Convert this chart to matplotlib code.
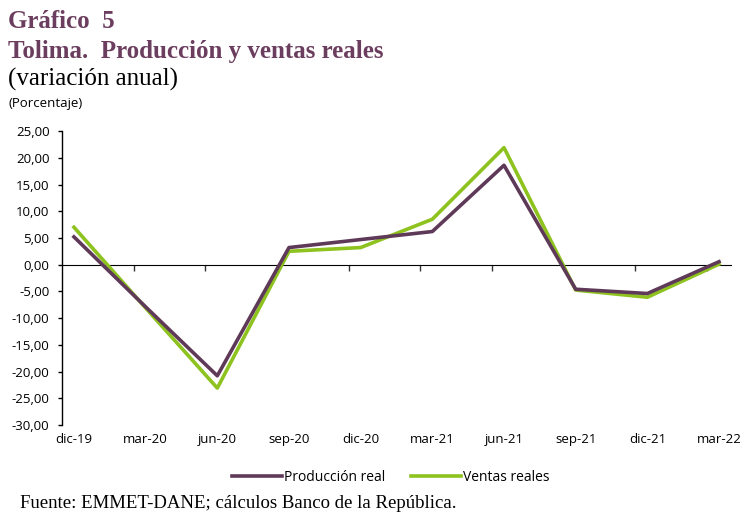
import matplotlib.pyplot as plt
from matplotlib.ticker import FuncFormatter

# Quarterly data (annual % change), placed on a monthly category axis
labels = ["dic-19", "mar-20", "jun-20", "sep-20", "dic-20",
          "mar-21", "jun-21", "sep-21", "dic-21", "mar-22"]
produccion = [5.2, -7.9, -20.8, 3.2, 4.7, 6.2, 18.6, -4.6, -5.4, 0.55]
ventas = [7.0, -8.1, -23.1, 2.5, 3.2, 8.5, 21.9, -4.75, -6.1, 0.1]
months = [3 * i for i in range(len(labels))]

purple = "#5E3A58"
green = "#8DC21F"
title_color = "#6B3D5E"
serif = "Liberation Serif"
sans = "Open Sans"

fig = plt.figure(figsize=(7.4, 5.12), dpi=100)
ax = fig.add_axes([0.0838, 0.170, 0.904, 0.574])

ax.plot(months, produccion, color=purple, lw=2.6, label="Producción real", zorder=3)
ax.plot(months, ventas, color=green, lw=2.6, label="Ventas reales", zorder=2)

ax.set_xlim(-0.5, 27.5)
ax.set_ylim(-30, 25)
ax.set_yticks(range(-30, 26, 5))
ax.yaxis.set_major_formatter(FuncFormatter(lambda v, p: f"{v:.2f}".replace(".", ",")))
ax.tick_params(axis="y", length=3, width=1, labelsize=9.5, pad=6)
for t in ax.get_yticklabels():
    t.set_fontfamily(sans)

ax.set_xticks(months)
ax.set_xticklabels(labels, fontfamily=sans, fontsize=9.5)
ax.tick_params(axis="x", length=0, pad=6)

for s in ["top", "right", "bottom"]:
    ax.spines[s].set_visible(False)
ax.spines["left"].set_linewidth(1)

# zero line with tick marks between quarters
sec = ax.secondary_xaxis(30 / 55)
sec.set_xticks([m + 2.5 for m in months[:-1]])
sec.set_xticklabels([])
sec.tick_params(axis="x", direction="in", length=4, width=1, color="#333333")
sec.spines["bottom"].set_color("#595959")
sec.spines["bottom"].set_linewidth(1.2)

fig.text(0.011, 0.958, "Gráfico  5", fontfamily=serif, fontsize=18, fontweight="bold",
         color=title_color, va="center")
fig.text(0.011, 0.899, "Tolima.  Producción y ventas reales", fontfamily=serif, fontsize=18,
         fontweight="bold", color=title_color, va="center")
fig.text(0.011, 0.845, "(variación anual)", fontfamily=serif, fontsize=18, color="black",
         va="center")
fig.text(0.011, 0.797, "(Porcentaje)", fontfamily=sans, fontsize=9.5, color="black", va="center")

fig.legend(loc="center", bbox_to_anchor=(0.528, 0.068), ncol=2, frameon=False,
           prop={"family": sans, "size": 10}, handlelength=3.6, columnspacing=1.8,
           handletextpad=0.2)

fig.text(0.027, 0.017, "Fuente: EMMET-DANE; cálculos Banco de la República.",
         fontfamily=serif, fontsize=13.5, color="black", va="center")

fig.savefig("out.png", dpi=100)
